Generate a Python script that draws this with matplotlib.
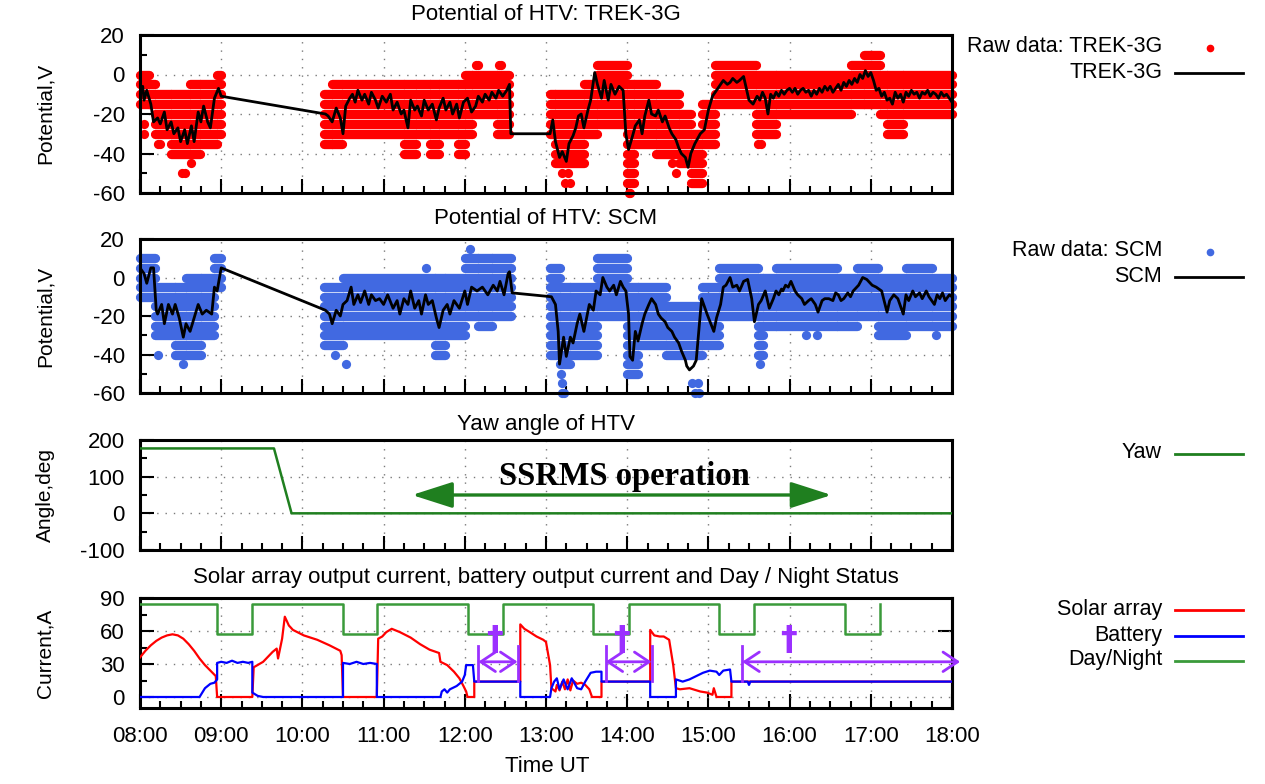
import numpy as np
import matplotlib
matplotlib.use("Agg")
import matplotlib.pyplot as plt
from matplotlib.ticker import MultipleLocator, FuncFormatter
from matplotlib.lines import Line2D

plt.rcParams['font.family'] = ['Liberation Sans', 'DejaVu Sans']
plt.rcParams['axes.unicode_minus'] = False

# ---------------------------------------------------------------- data
# TREK-3G averaged potential (time UT, V)
trek_line = [
    ("08:00",-10),("08:02",-6),("08:03",-13),("08:05",-8),("08:08",-15),("08:10",-24),("08:13",-22),("08:15",-25),("08:18",-19),("08:20",-28),
    ("08:23",-24),("08:25",-30),("08:28",-27),("08:30",-34),("08:33",-28),("08:35",-35),("08:38",-26),("08:40",-34),("08:43",-19),("08:45",-24),
    ("08:47",-16),("08:50",-24),("08:52",-27),("08:55",-12),("08:58",-7),("09:00",-11),
    ("10:17",-20),("10:19",-21),("10:22",-24),("10:25",-17),("10:28",-22),("10:30",-30),("10:32",-16),("10:35",-12),("10:37",-10),("10:39",-14),
    ("10:41",-8),("10:44",-13),("10:46",-10),("10:49",-15),("10:51",-9),("10:54",-13),("10:56",-17),("10:59",-11),("11:02",-14),("11:05",-10),
    ("11:07",-18),("11:10",-14),("11:13",-20),("11:15",-18),("11:18",-27),("11:20",-13),("11:23",-18),("11:25",-16),("11:28",-21),("11:30",-13),
    ("11:33",-18),("11:36",-15),("11:39",-23),("11:41",-17),("11:44",-12),("11:46",-18),("11:49",-14),("11:51",-20),("11:54",-15),("11:56",-22),
    ("11:59",-14),("12:02",-12),("12:05",-19),("12:08",-16),("12:10",-11),("12:13",-14),("12:15",-10),("12:18",-13),("12:20",-9),("12:23",-12),
    ("12:25",-8),("12:28",-11),("12:31",-8),("12:33",-5),("12:34",-30),("13:03",-30),
    ("13:05",-23),("13:07",-34),("13:10",-42),("13:12",-39),("13:15",-44),("13:17",-35),("13:20",-31),("13:22",-27),("13:24",-21),("13:26",-20),
    ("13:28",-27),("13:31",-18),("13:33",-13),("13:36",1),("13:38",-5),("13:41",-12),("13:43",-3),("13:46",-13),("13:48",-5),("13:51",-10),
    ("13:54",-6),("13:57",-8),("13:59",-30),("14:01",-38),("14:04",-31),("14:06",-26),("14:09",-23),("14:11",-30),("14:13",-21),("14:16",-13),
    ("14:18",-20),("14:21",-21),("14:23",-18),("14:26",-24),("14:28",-21),("14:31",-27),("14:33",-30),("14:36",-33),("14:38",-37),("14:40",-40),
    ("14:43",-42),("14:45",-47),("14:47",-40),("14:50",-35),("14:54",-30),("14:57",-28),("15:00",-18),("15:03",-11),("15:06",-8),("15:08",-6),
    ("15:11",-3),("15:14",-5),("15:16",-4),("15:18",-2),("15:21",-4),("15:23",-3),("15:26",-1),("15:28",-7),("15:30",-13),("15:33",-15),
    ("15:36",-11),("15:38",-13),("15:40",-9),("15:42",-12),("15:44",-20),("15:46",-10),("15:48",-12),("15:50",-9),("15:52",-11),("15:54",-8),
    ("15:56",-10),("15:58",-8),("16:00",-7),("16:02",-9),("16:04",-7),("16:06",-10),("16:08",-8),("16:10",-7),("16:12",-9),("16:14",-8),
    ("16:16",-11),("16:18",-8),("16:20",-10),("16:22",-7),("16:24",-9),("16:26",-6),("16:28",-8),("16:30",-6),("16:32",-9),("16:34",-7),
    ("16:36",-5),("16:38",-8),("16:40",-4),("16:42",-6),("16:44",-3),("16:46",-5),("16:48",-2),("16:50",-4),("16:52",0),("16:54",-2),
    ("16:56",2),("16:58",-1),("17:00",1),("17:02",-3),("17:04",-8),("17:06",-7),("17:08",-11),("17:10",-9),("17:12",-13),("17:14",-12),
    ("17:16",-15),("17:18",-9),("17:20",-12),("17:22",-10),("17:24",-14),("17:26",-9),("17:28",-11),("17:30",-8),("17:32",-10),("17:34",-9),
    ("17:36",-12),("17:38",-9),("17:40",-10),("17:42",-8),("17:44",-11),("17:46",-9),("17:48",-10),("17:50",-12),("17:52",-9),("17:54",-11),
    ("17:56",-10),("17:58",-12),("18:00",-14),
]

# TREK-3G raw samples: (start, end, lowest level, highest level), 5 V quantisation
trek_raw = [
    ("08:00","08:07",-15,0),("08:07","08:11",-15,-5),("08:11","08:23",-30,-10),("08:23","08:37",-40,-10),
    ("08:37","08:44",-40,-5),("08:44","08:57",-35,-5),("08:57","09:00",-30,0),
    ("10:16","10:22",-35,-10),("10:22","10:29",-35,-5),("10:29","11:15",-30,-5),("11:15","11:24",-40,-5),
    ("11:24","11:34",-30,-5),("11:34","11:41",-40,-5),("11:41","11:55",-30,-5),("11:55","12:00",-40,-5),
    ("12:00","12:05",-30,0),("12:05","12:24",-20,0),("12:24","12:33",-30,0),
    ("13:03","13:07",-30,-10),("13:07","13:28",-45,-10),("13:28","13:38",-30,-5),("13:38","14:00",-25,5),
    ("14:00","14:05",-55,-5),("14:05","14:21",-35,-5),("14:21","14:38",-40,-10),("14:38","14:47",-45,-20),
    ("14:47","14:55",-55,-30),("14:55","15:05",-35,-15),("15:05","15:35",-15,5),("15:35","15:50",-30,0),
    ("15:50","16:45",-20,0),("16:45","16:55",-15,5),("16:55","17:07",-15,10),("17:07","17:12",-20,0),
    ("17:12","17:24",-30,0),("17:24","18:00",-20,0),
]
trek_outliers = [
    ("08:03",-25),("08:03",-30),("08:13",-35),("08:15",-35),("08:31",-50),("08:33",-50),("08:38",-45),
    ("12:08",5),("12:10",5),("12:25",5),("12:27",5),
    ("13:12",-50),("13:14",-55),("13:16",-50),("13:18",-55),("14:01",-60),("14:02",-60),
    ("14:33",-45),("14:36",-50),("15:37",-35),("15:39",-35),
]

# SCM averaged potential (time UT, V)
scm_line = [
    ("08:00",5),("08:03",2),("08:05",-3),("08:08",5),("08:10",5),("08:12",-17),("08:13",-19),("08:16",-14),("08:18",-24),("08:21",-14),
    ("08:24",-19),("08:26",-14),("08:29",-21),("08:32",-31),("08:34",-24),("08:37",-28),("08:40",-21),("08:43",-14),("08:46",-19),("08:49",-17),
    ("08:53",-19),("08:55",-5),("08:57",-7),("08:59",1),("09:00",5),
    ("10:17",-17),("10:20",-19),("10:22",-24),("10:25",-17),("10:28",-20),("10:30",-14),("10:33",-12),("10:36",-5),("10:38",-14),("10:41",-9),
    ("10:43",-13),("10:46",-7),("10:49",-14),("10:51",-9),("10:54",-12),("10:57",-11),("11:00",-14),("11:03",-9),("11:07",-16),("11:10",-12),
    ("11:12",-19),("11:15",-11),("11:18",-14),("11:20",-7),("11:23",-16),("11:26",-12),("11:28",-19),("11:31",-9),("11:33",-14),("11:36",-12),
    ("11:39",-21),("11:41",-26),("11:44",-17),("11:47",-14),("11:49",-19),("11:52",-12),("11:56",-16),("12:00",-7),("12:02",-14),("12:05",-5),
    ("12:09",-7),("12:13",-5),("12:17",-9),("12:21",-4),("12:24",-7),("12:26",-2),("12:29",-9),("12:32",2),("12:33",3),("12:35",-8),
    ("13:04",-10),("13:07",-14),("13:09",-28),("13:10",-45),("13:13",-31),("13:15",-41),("13:18",-31),("13:20",-34),("13:23",-24),("13:25",-19),
    ("13:28",-28),("13:30",-21),("13:32",-14),("13:35",-17),("13:37",-7),("13:40",-9),("13:42",0),("13:45",-5),("13:47",-7),("13:50",-4),
    ("13:52",-9),("13:55",-2),("13:57",-5),("13:59",-7),("14:01",-19),("14:02",-41),("14:04",-43),("14:06",-28),("14:08",-33),("14:11",-24),
    ("14:13",-19),("14:16",-14),("14:18",-11),("14:21",-14),("14:23",-19),("14:25",-21),("14:28",-23),("14:30",-26),("14:33",-28),("14:35",-31),
    ("14:38",-34),("14:40",-38),("14:43",-43),("14:44",-46),("14:46",-48),("14:49",-46),("14:51",-43),("14:55",-11),("14:59",-19),("15:04",-28),
    ("15:06",-21),("15:09",-14),("15:11",-5),("15:13",-4),("15:16",0),("15:18",-5),("15:21",-4),("15:23",-7),("15:26",-2),("15:29",-1),
    ("15:32",-11),("15:34",-23),("15:37",-14),("15:39",-12),("15:42",-7),("15:45",-16),("15:48",-11),("15:50",-7),("15:52",-9),("15:54",-6),
    ("15:55",-7),("15:57",-4),("15:59",-5),("16:01",-2),("16:04",-7),("16:06",-9),("16:09",-11),("16:11",-14),("16:14",-12),("16:16",-11),
    ("16:19",-14),("16:21",-18),("16:24",-12),("16:26",-11),("16:29",-11),("16:32",-12),("16:34",-8),("16:36",-9),("16:38",-12),("16:40",-11),
    ("16:43",-8),("16:45",-10),("16:47",-7),("16:51",-4),("16:54",0),("16:57",-1),("17:01",-4),("17:04",-5),("17:08",-7),("17:12",-18),
    ("17:14",-12),("17:17",-9),("17:20",-11),("17:24",-19),("17:26",-9),("17:28",-12),("17:31",-7),("17:33",-10),("17:36",-8),("17:38",-11),
    ("17:41",-7),("17:43",-10),("17:45",-12),("17:47",-14),("17:49",-9),("17:51",-11),("17:53",-8),("17:55",-12),("17:58",-9),("18:00",-10),
]

# SCM raw samples: (start, end, lowest level, highest level)
scm_raw = [
    ("08:00","08:11",-10,10),("08:11","08:26",-30,-5),("08:26","08:34",-40,-5),("08:34","08:45",-40,0),
    ("08:45","08:55",-30,0),("08:55","09:00",-5,10),
    ("10:16","10:30",-35,-5),("10:30","11:38",-30,0),("11:38","11:45",-40,0),("11:45","12:00",-30,0),
    ("12:00","12:10",-20,10),("12:10","12:20",-25,10),("12:20","12:34",-20,10),
    ("13:03","13:10",-40,5),("13:10","13:18",-45,-5),("13:18","13:38",-40,-5),("13:38","14:00",-20,10),
    ("14:00","14:08",-50,-5),("14:08","14:29",-35,-5),("14:29","14:55",-40,-15),("14:55","15:08",-35,-5),
    ("15:08","15:37",-20,5),("15:37","15:40",-40,0),("15:40","15:50",-25,0),("15:50","16:35",-25,5),
    ("16:35","16:50",-25,0),("16:50","17:05",-20,5),("17:05","17:26",-30,0),("17:26","17:45",-25,5),
    ("17:45","18:00",-25,0),
]
scm_outliers = [
    ("08:13",-40),("08:32",-45),("10:24",-40),("10:32",-45),("11:31",5),("12:04",15),
    ("13:11",-50),("13:12",-55),("13:12",-60),("13:13",-60),("14:48",-55),("14:50",-60),("14:52",-55),("14:53",-60),
    ("15:38",-45),("16:12",-30),("16:20",-30),("17:48",-30),
]

# Yaw angle
yaw_time = ["08:00", "09:39", "09:52", "18:00"]
yaw_value = [177, 177, 0, 0]

# Solar array output current (A)
solar = [
    ("08:00",36),("08:04",42),("08:08",47),("08:12",51),("08:16",54),("08:20",56),("08:24",57),("08:28",56),("08:32",53),("08:36",48),
    ("08:40",42),("08:44",35),("08:48",29),("08:52",24),("08:56",19),("08:57",0),("09:23",0),("09:24",27),("09:31",32),("09:38",41),
    ("09:41",44),("09:42",35),("09:45",53),("09:47",73),("09:50",65),("09:53",61),("10:01",56),("10:11",52),("10:20",47),("10:28",42),
    ("10:29",38),("10:30",0),("10:55",0),("10:56",53),("10:59",55),("11:02",59),("11:06",62),("11:12",59),("11:20",54),("11:27",48),
    ("11:34",43),("11:41",40),("11:42",32),("11:47",29),("11:52",23),("11:56",17),("11:59",10),("12:01",5),("12:02",0),("12:07",0),
    ("12:07",14),("12:41",14),("12:41",66),("12:44",62),("12:48",59),("12:53",55),("12:58",52),("13:00",50),("13:03",29),("13:04",8),
    ("13:07",5),("13:08",11),("13:10",6),("13:12",14),("13:14",7),("13:16",16),("13:18",6),("13:20",15),("13:23",12),("13:26",13),
    ("13:29",11),("13:32",7),("13:34",0),("13:41",0),("13:41",14),("14:17",14),("14:17",61),("14:20",56),("14:24",55),("14:27",55),
    ("14:31",52),("14:34",29),("14:36",8),("14:39",7),("14:46",8),("14:54",5),("14:59",4),("15:03",2),("15:04",8),("15:06",0),
    ("15:17",0),("15:17",14),("18:00",14),
]

# Battery output current (A)
battery = [
    ("08:00",0),("08:44",0),("08:46",4),("08:48",8),("08:52",12),("08:55",13),("08:57",16),("08:57",31),("09:00",32),("09:04",31),
    ("09:08",33),("09:12",31),("09:16",32),("09:20",31),("09:23",32),("09:23",4),("09:27",1),("09:31",0),("10:30",0),("10:30",31),
    ("10:35",30),("10:40",32),("10:45",30),("10:50",31),("10:55",30),("10:55",0),("11:42",0),("11:43",5),("11:45",7),("11:47",4),
    ("11:49",7),("11:54",10),("11:58",14),("12:00",20),("12:01",29),("12:06",29),("12:07",14),("12:41",14),("12:41",0),("13:03",0),
    ("13:04",8),("13:06",14),("13:08",17),("13:10",7),("13:13",16),("13:16",7),("13:19",17),("13:23",8),("13:26",7),("13:29",14),
    ("13:33",22),("13:37",23),("13:41",23),("13:41",14),("14:17",14),("14:17",0),("14:36",0),("14:36",16),("14:41",14),("14:46",16),
    ("14:51",19),("14:56",22),("15:01",24),("15:06",23),("15:08",20),("15:11",24),("15:16",25),("15:17",14),("15:29",14),("15:30",11),
    ("15:31",14),("18:00",14),
]

# Day / Night status (step levels)
dn_time = ["08:00","08:57","09:23","10:30","10:55","12:02","12:28","13:35","14:01","15:08","15:34","16:41","17:07"]
dn_level = [85, 57, 85, 57, 85, 57, 85, 57, 85, 57, 85, 57, 85]

# Annotations
ssrms_start, ssrms_end, ssrms_level = "11:21", "16:31", 50
ssrms_label_time, ssrms_label_level = "13:58", 100
bracket_start = ["12:10", "13:44", "15:25"]
bracket_end = ["12:39", "14:18", "18:06"]
bracket_end_bar = [True, True, False]
dagger_time = ["12:22", "13:56", "15:59"]
bracket_level, bar_low, bar_high, dagger_level = 32, 15, 46, 51

hour_ticks = list(range(8, 19))


def hrs(s):
    h, m = s.split(":")
    return int(h) + int(m) / 60.0


def unzip(pairs):
    return np.array([hrs(t) for t, _ in pairs]), np.array([v for _, v in pairs], float)


# ---------------------------------------------------------------- figure
W, HH = 1265, 784
fig = plt.figure(figsize=(W / 100, HH / 100), dpi=100)


def box(top, bottom):
    return [140 / W, 1 - bottom / HH, 812 / W, (bottom - top) / HH]


ax1 = fig.add_axes(box(35, 193))
ax2 = fig.add_axes(box(239, 393))
ax3 = fig.add_axes(box(440, 550))
ax4 = fig.add_axes(box(598, 708))
axes = [ax1, ax2, ax3, ax4]

for ax in axes:
    ax.set_xlim(8, 18)
    ax.set_xticks(hour_ticks)
    ax.xaxis.set_minor_locator(MultipleLocator(0.25))
    ax.tick_params(which='both', direction='in', top=False, right=False,
                   labelsize=16, width=1.5, color='black')
    ax.tick_params(which='major', length=10)
    ax.tick_params(which='minor', length=5)
    ax.tick_params(axis='x', pad=13)
    ax.tick_params(axis='y', pad=11)
    for s in ax.spines.values():
        s.set_linewidth(2.2)
    ax.grid(True, which='major', color='#7a7a7a', linestyle=(0, (1, 5)), linewidth=1.0)
    ax.set_axisbelow(True)

for ax in (ax1, ax2, ax3):
    ax.tick_params(axis='x', labelbottom=False)
ax4.xaxis.set_major_formatter(FuncFormatter(lambda v, p: f"{int(round(v)):02d}:00"))

for ax in (ax1, ax2):
    ax.set_ylim(-60, 20)
    ax.yaxis.set_major_locator(MultipleLocator(20))
    ax.yaxis.set_minor_locator(MultipleLocator(10))
ax3.set_ylim(-100, 200)
ax3.yaxis.set_major_locator(MultipleLocator(100))
ax3.yaxis.set_minor_locator(MultipleLocator(50))
ax4.set_ylim(-10, 90)
ax4.yaxis.set_major_locator(MultipleLocator(30))
ax4.yaxis.set_minor_locator(MultipleLocator(15))

RED = '#ff0000'
SCMBLUE = '#4169e1'


def draw_raw(ax, segs, outliers, color):
    x0, x1, ys = [], [], []
    for t0, t1, lo, hi in segs:
        for lev in range(lo, hi + 1, 5):
            x0.append(hrs(t0)); x1.append(hrs(t1)); ys.append(lev)
    ax.hlines(ys, x0, x1, colors=color, linewidth=6.7, capstyle='round', zorder=2, clip_on=False)
    ot, ov = unzip(outliers)
    ax.scatter(ot, ov, s=44, color=color, linewidths=0, zorder=2, clip_on=False)


# Panel 1: TREK-3G
draw_raw(ax1, trek_raw, trek_outliers, RED)
t, v = unzip(trek_line)
ax1.plot(t, v, color='black', lw=2.0, zorder=3)

# Panel 2: SCM
draw_raw(ax2, scm_raw, scm_outliers, SCMBLUE)
t, v = unzip(scm_line)
ax2.plot(t, v, color='black', lw=2.0, zorder=3)

# Panel 3: Yaw
YAWGREEN = '#1f7f1f'
ax3.plot([hrs(s) for s in yaw_time], yaw_value, color=YAWGREEN, lw=1.8, zorder=3)
ax3.annotate('', xy=(hrs(ssrms_end), ssrms_level), xytext=(hrs(ssrms_start), ssrms_level),
             arrowprops=dict(arrowstyle='<|-|>,head_length=1.25,head_width=0.4',
                             mutation_scale=20, lw=2.4, color=YAWGREEN,
                             shrinkA=0, shrinkB=0), zorder=4)
ax3.text(hrs(ssrms_label_time), ssrms_label_level, 'SSRMS operation',
         family=['Liberation Serif', 'DejaVu Serif'], fontweight='bold', fontsize=23.5,
         ha='center', va='center', zorder=5)

# Panel 4: currents
DNGREEN = '#3a9a3a'
t, v = unzip(solar)
ax4.plot(t, v, color=RED, lw=1.6, zorder=3)
t, v = unzip(battery)
ax4.plot(t, v, color='#0000ff', lw=1.6, zorder=3)
ax4.plot([hrs(s) for s in dn_time], dn_level, color=DNGREEN, lw=1.8,
         drawstyle='steps-post', zorder=3)

PURPLE = '#9b30ff'
for t0, t1, endbar, td in zip(bracket_start, bracket_end, bracket_end_bar, dagger_time):
    a, b = hrs(t0), hrs(t1)
    ax4.plot([a, a], [bar_low, bar_high], color=PURPLE, lw=2.0, zorder=5, clip_on=False)
    if endbar:
        ax4.plot([b, b], [bar_low, bar_high], color=PURPLE, lw=2.0, zorder=5, clip_on=False)
    ax4.annotate('', xy=(b, bracket_level), xytext=(a, bracket_level),
                 arrowprops=dict(arrowstyle='<->,head_length=0.75,head_width=0.5',
                                 mutation_scale=14, lw=2.0, color=PURPLE,
                                 shrinkA=0, shrinkB=0),
                 zorder=5, annotation_clip=False)
    ax4.text(hrs(td), dagger_level, '\u2020', color=PURPLE, fontsize=24, fontweight='bold',
             family=['DejaVu Sans'], ha='center', va='center', zorder=6)

# single mirrored tick on the right of the bottom panel
sec = ax4.secondary_yaxis('right')
sec.set_yticks([60])
sec.set_yticklabels([])
sec.tick_params(direction='in', length=10, width=1.5)
sec.spines['right'].set_linewidth(2.2)

# ---------------------------------------------------------------- texts
def fx(px):
    return px / W


def fy(py):
    return 1 - py / HH


titles = [(15, "Potential of HTV: TREK-3G"), (218, "Potential of HTV: SCM"),
          (424, "Yaw angle of HTV"),
          (578, "Solar array output current, battery output current and Day / Night Status")]
for py, s in titles:
    fig.text(fx(546), fy(py), s, ha='center', va='center', fontsize=16)

for py, s in [(113, "Potential,V"), (316, "Potential,V"), (495, "Angle,deg"), (653, "Current,A")]:
    fig.text(fx(45), fy(py), s, rotation=90, ha='center', va='center', fontsize=15)

fig.text(fx(547), fy(767), "Time UT", ha='center', va='center', fontsize=16)

# legends (right-hand side)
def leg_text(py, s):
    fig.text(fx(1162), fy(py), s, ha='right', va='center', fontsize=15.5)


def leg_line(py, color):
    fig.add_artist(Line2D([fx(1175), fx(1243)], [fy(py), fy(py)], color=color, lw=2.0))


def leg_dot(py, color):
    fig.add_artist(Line2D([fx(1210)], [fy(py)], marker='o', markersize=4.5,
                          color=color, linestyle='none'))


leg_text(46, "Raw data: TREK-3G"); leg_dot(48, RED)
leg_text(72, "TREK-3G"); leg_line(73, 'black')
leg_text(250, "Raw data: SCM"); leg_dot(252, SCMBLUE)
leg_text(276, "SCM"); leg_line(277, 'black')
leg_text(452, "Yaw"); leg_line(454, YAWGREEN)
leg_text(609, "Solar array"); leg_line(610, RED)
leg_text(635, "Battery"); leg_line(636, '#0000ff')
leg_text(660, "Day/Night"); leg_line(661, DNGREEN)

fig.savefig("out.png", dpi=100)
